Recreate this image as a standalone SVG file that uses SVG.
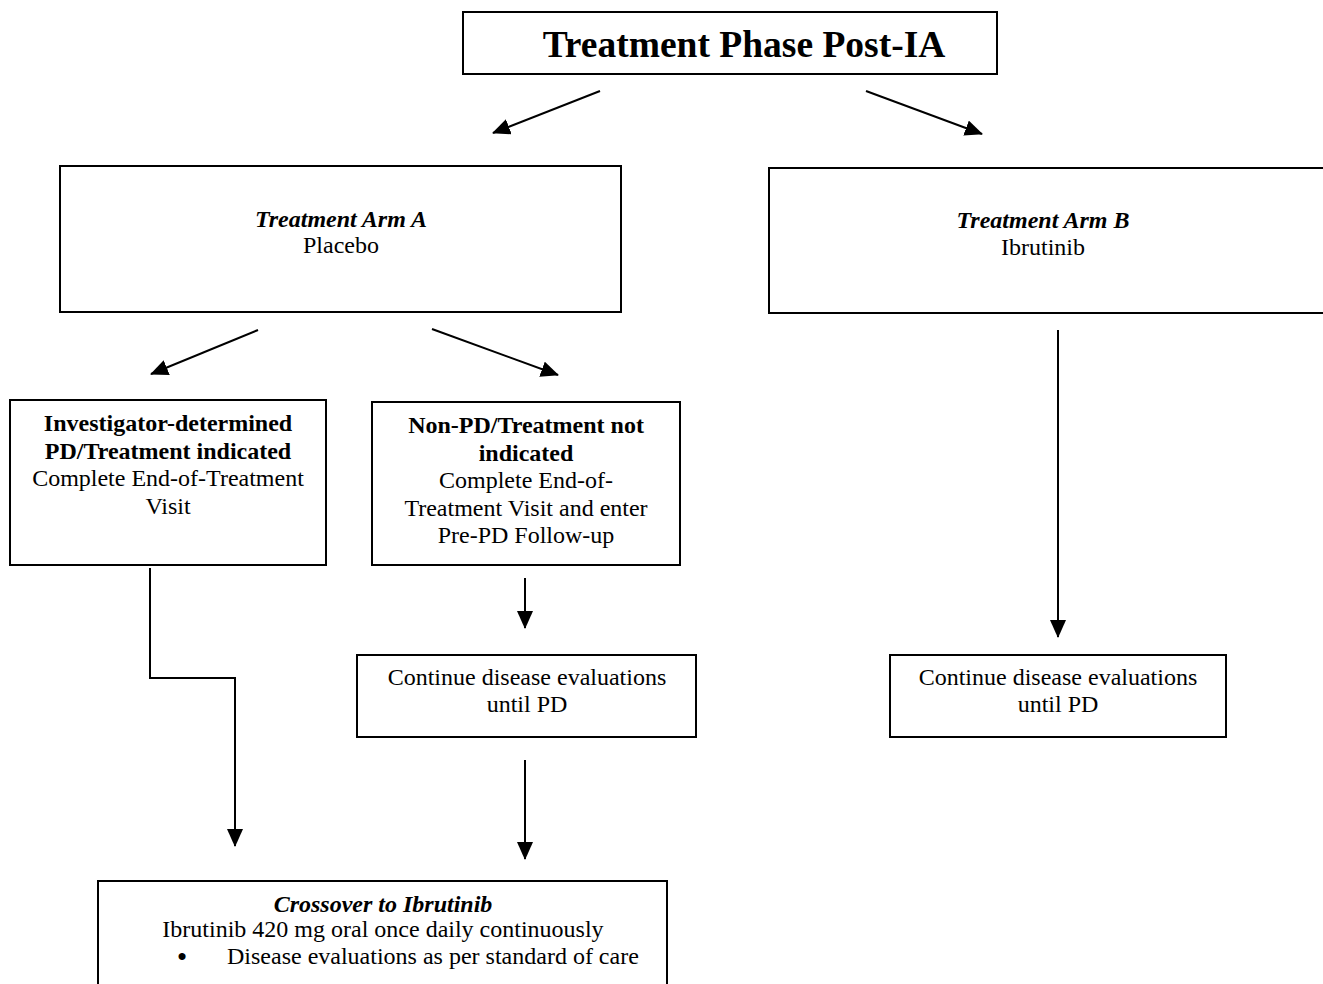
<svg xmlns="http://www.w3.org/2000/svg" width="1323" height="984" viewBox="0 0 1323 984">
<style>
.box{fill:#fff;stroke:#000;stroke-width:2}
.t{font-family:"Liberation Serif","Times New Roman",serif;font-size:24px;fill:#000;text-anchor:middle}
.b{font-weight:bold}
.bi{font-weight:bold;font-style:italic}
.c{fill:none;stroke:#000;stroke-width:2}
</style>
<defs>
<marker id="ah" markerUnits="userSpaceOnUse" markerWidth="18" markerHeight="16" refX="17" refY="8" orient="auto">
<path d="M0,0 L18,8 L0,16 Z" fill="#000"/>
</marker>
</defs>
<rect width="1323" height="984" fill="#fff"/>
<g id="connectors">
<line class="c" x1="600" y1="91" x2="493" y2="133" marker-end="url(#ah)"/>
<line class="c" x1="866" y1="91" x2="982" y2="134" marker-end="url(#ah)"/>
<line class="c" x1="258" y1="330" x2="151" y2="374" marker-end="url(#ah)"/>
<line class="c" x1="432" y1="329" x2="558" y2="375" marker-end="url(#ah)"/>
<polyline class="c" points="150,568 150,678 235,678 235,846" marker-end="url(#ah)"/>
<line class="c" x1="525" y1="578" x2="525" y2="628" marker-end="url(#ah)"/>
<line class="c" x1="525" y1="760" x2="525" y2="859" marker-end="url(#ah)"/>
<line class="c" x1="1058" y1="330" x2="1058" y2="637" marker-end="url(#ah)"/>
</g>
<g id="title">
<rect class="box" x="463" y="12" width="534" height="62"/>
<text class="t b" x="744" y="57" style="font-size:37.5px">Treatment Phase Post-IA</text>
</g>
<g id="armA">
<rect class="box" x="60" y="166" width="561" height="146"/>
<text class="t" x="341" y="227"><tspan class="bi">Treatment Arm A</tspan><tspan x="341" dy="26">Placebo</tspan></text>
</g>
<g id="armB">
<rect class="box" x="769" y="168" width="560" height="145"/>
<text class="t" x="1043" y="228"><tspan class="bi">Treatment Arm B</tspan><tspan x="1043" dy="27">Ibrutinib</tspan></text>
</g>
<g id="pd">
<rect class="box" x="10" y="400" width="316" height="165"/>
<text class="t" x="168" y="431"><tspan class="b">Investigator-determined</tspan><tspan class="b" x="168" dy="28">PD/Treatment indicated</tspan><tspan x="168" dy="27">Complete End-of-Treatment</tspan><tspan x="168" dy="28">Visit</tspan></text>
</g>
<g id="nonpd">
<rect class="box" x="372" y="402" width="308" height="163"/>
<text class="t" x="526" y="433"><tspan class="b">Non-PD/Treatment not</tspan><tspan class="b" x="526" dy="28">indicated</tspan><tspan x="526" dy="27">Complete End-of-</tspan><tspan x="526" dy="28">Treatment Visit and enter</tspan><tspan x="526" dy="27">Pre-PD Follow-up</tspan></text>
</g>
<g id="continueA">
<rect class="box" x="357" y="655" width="339" height="82"/>
<text class="t" x="527" y="685"><tspan>Continue disease evaluations</tspan><tspan x="527" dy="27">until PD</tspan></text>
</g>
<g id="continueB">
<rect class="box" x="890" y="655" width="336" height="82"/>
<text class="t" x="1058" y="685"><tspan>Continue disease evaluations</tspan><tspan x="1058" dy="27">until PD</tspan></text>
</g>
<g id="crossover">
<rect class="box" x="98" y="881" width="569" height="110"/>
<text class="t" x="383" y="912"><tspan class="bi">Crossover to Ibrutinib</tspan><tspan x="383" dy="25">Ibrutinib 420 mg oral once daily continuously</tspan></text>
<text class="t b" x="182" y="965" style="font-size:26px">•</text>
<text class="t" x="227" y="964" style="text-anchor:start">Disease evaluations as per standard of care</text>
</g>
</svg>
